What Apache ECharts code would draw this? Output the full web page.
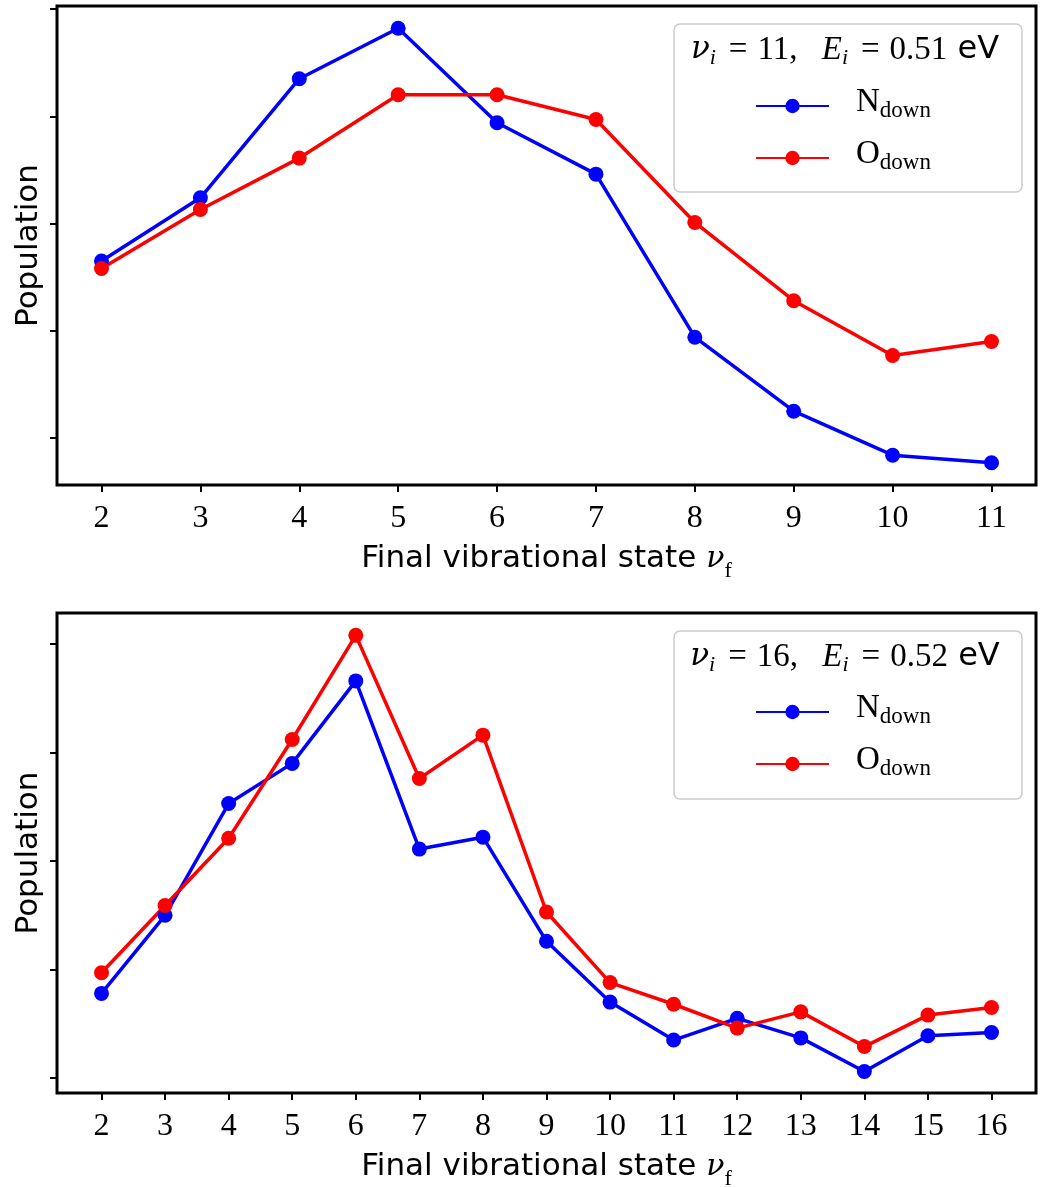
<!DOCTYPE html>
<html>
<head>
<meta charset="utf-8">
<script src="https://cdn.jsdelivr.net/npm/echarts@6/dist/echarts.min.js"></script>
<style>
html,body{margin:0;padding:0;background:#fff;}
#chart{width:1040px;height:1187px;}
</style>
</head>
<body>
<div id="chart"></div>
<script>
// ---- data (population in arbitrary units; y ticks unlabeled) ----
const xTop = [2, 3, 4, 5, 6, 7, 8, 9, 10, 11];
const nDownTop = [2.65, 3.24, 4.35, 4.82, 3.94, 3.46, 1.94, 1.25, 0.84, 0.77];
const oDownTop = [2.58, 3.13, 3.61, 4.20, 4.20, 3.97, 3.01, 2.28, 1.77, 1.90];

const xBot = [2, 3, 4, 5, 6, 7, 8, 9, 10, 11, 12, 13, 14, 15, 16];
const nDownBot = [1.78, 2.50, 3.53, 3.90, 4.66, 3.11, 3.22, 2.26, 1.70, 1.35, 1.55, 1.37, 1.06, 1.39, 1.42];
const oDownBot = [1.97, 2.59, 3.21, 4.12, 5.08, 3.76, 4.16, 2.53, 1.88, 1.68, 1.46, 1.61, 1.29, 1.58, 1.65];

const xTicksTop = [2, 3, 4, 5, 6, 7, 8, 9, 10, 11];
const xTicksBot = [2, 3, 4, 5, 6, 7, 8, 9, 10, 11, 12, 13, 14, 15, 16];
const yTicks = [1, 2, 3, 4, 5];
const seriesNames = ['N_down', 'O_down'];
const panelTitles = [['11', '0.51'], ['16', '0.52']];

const BLUE = '#0000ff', RED = '#ff0000';
const SERIF = 'Liberation Serif', SANS = 'DejaVu Sans', GREEK = 'DejaVu Serif';

function xAxisCfg(grid, min, max, ticks) {
  return {
    type: 'value', gridIndex: grid, min: min, max: max,
    axisLine: {show: false},
    splitLine: {show: false},
    axisTick: {show: true, inside: false, length: 7, customValues: ticks, lineStyle: {color: '#000', width: 2}},
    axisLabel: {show: true, customValues: ticks, margin: 18, color: '#000', fontFamily: SERIF, fontSize: 32},
    name: '{a|Final vibrational state }{b|ν}{c|f}',
    nameLocation: 'middle', nameGap: 55,
    nameTextStyle: {
      color: '#000',
      rich: {
        a: {fontFamily: SANS, fontSize: 31, lineHeight: 36, color: '#000'},
        b: {fontFamily: GREEK, fontStyle: 'italic', fontSize: 30, lineHeight: 36, color: '#000'},
        c: {fontFamily: SERIF, fontSize: 22, lineHeight: 36, padding: [24, 0, 0, 0], color: '#000'}
      }
    }
  };
}
function yAxisCfg(grid, min, max) {
  return {
    type: 'value', gridIndex: grid, min: min, max: max,
    axisLine: {show: false},
    splitLine: {show: false},
    axisTick: {show: true, inside: false, length: 7, customValues: yTicks, lineStyle: {color: '#000', width: 2}},
    axisLabel: {show: false},
    name: 'Population', nameLocation: 'middle', nameGap: 10,
    nameTextStyle: {color: '#000', fontFamily: SANS, fontSize: 31, lineHeight: 36}
  };
}
function lineSeries(name, color, xs, ys, idx) {
  return {
    type: 'line', name: name, xAxisIndex: idx, yAxisIndex: idx,
    data: xs.map((x, i) => [x, ys[i]]),
    symbol: 'circle', symbolSize: 15, showSymbol: true,
    lineStyle: {width: 3.5, color: color}, itemStyle: {color: color},
    emphasis: {disabled: true}, z: 3
  };
}
function legendCfg(top) {
  return {
    orient: 'vertical', left: 755, top: top, padding: 0,
    itemWidth: 73, itemHeight: 18, itemGap: 12,
    data: seriesNames, z: 20,
    formatter: function (name) { return '{n|' + name.charAt(0) + '}{s|down}'; },
    textStyle: {
      color: '#000', padding: [0, 0, 8, 22],
      rich: {
        n: {fontFamily: SERIF, fontSize: 33, lineHeight: 36, color: '#000'},
        s: {fontFamily: SERIF, fontSize: 23, lineHeight: 36, padding: [17, 0, 0, 0], color: '#000'}
      }
    }
  };
}
function titleText(cx, cy, t) {
  return {
    type: 'text', x: cx, y: cy, z: 30,
    style: {
      text: '{m|ν}{s|i}{eq|=}{r|' + t[0] + ',}{sp| }{e|E}{s|i}{eq|=}{r|' + t[1] + '}{sv| eV}',
      align: 'center', verticalAlign: 'middle', fill: '#000',
      rich: {
        m: {fontFamily: GREEK, fontStyle: 'italic', fontSize: 31, lineHeight: 36, fill: '#000'},
        e: {fontFamily: SERIF, fontStyle: 'italic', fontSize: 33, lineHeight: 36, fill: '#000'},
        s: {fontFamily: SERIF, fontStyle: 'italic', fontSize: 22, lineHeight: 36, padding: [16, 0, 0, 0], fill: '#000'},
        eq: {fontFamily: SERIF, fontSize: 33, lineHeight: 36, padding: [0, 10, 0, 13], fill: '#000'},
        r: {fontFamily: SERIF, fontSize: 33, lineHeight: 36, fill: '#000'},
        sp: {fontFamily: SERIF, fontSize: 33, lineHeight: 36, padding: [0, 16, 0, 0], fill: '#000'},
        sv: {fontFamily: SANS, fontSize: 32, lineHeight: 36, fill: '#000'}
      }
    }
  };
}
function frame(y) {
  return {
    type: 'rect', z: 10,
    shape: {x: 674, y: y, width: 348, height: 168, r: 6},
    style: {fill: 'rgba(255,255,255,0.8)', stroke: '#cccccc', lineWidth: 1.5}
  };
}

const chart = echarts.init(document.getElementById('chart'), null, {renderer: 'canvas'});
chart.setOption({
  animation: false,
  backgroundColor: '#ffffff',
  grid: [
    {left: 57, top: 6, width: 979, height: 479, show: true, borderColor: '#000', borderWidth: 3, backgroundColor: '#fff', containLabel: false, outerBoundsMode: 'none'},
    {left: 57, top: 613, width: 979, height: 480, show: true, borderColor: '#000', borderWidth: 3, backgroundColor: '#fff', containLabel: false, outerBoundsMode: 'none'}
  ],
  xAxis: [xAxisCfg(0, 1.55, 11.45, xTicksTop), xAxisCfg(1, 1.3, 16.7, xTicksBot)],
  yAxis: [yAxisCfg(0, 0.562, 5.028), yAxisCfg(1, 0.862, 5.286)],
  legend: [legendCfg(82), legendCfg(688)],
  graphic: [frame(24), frame(631), titleText(845, 50, panelTitles[0]), titleText(845, 657, panelTitles[1])],
  series: [
    lineSeries(seriesNames[0], BLUE, xTop, nDownTop, 0),
    lineSeries(seriesNames[1], RED, xTop, oDownTop, 0),
    lineSeries(seriesNames[0], BLUE, xBot, nDownBot, 1),
    lineSeries(seriesNames[1], RED, xBot, oDownBot, 1)
  ]
});
</script>
</body>
</html>
